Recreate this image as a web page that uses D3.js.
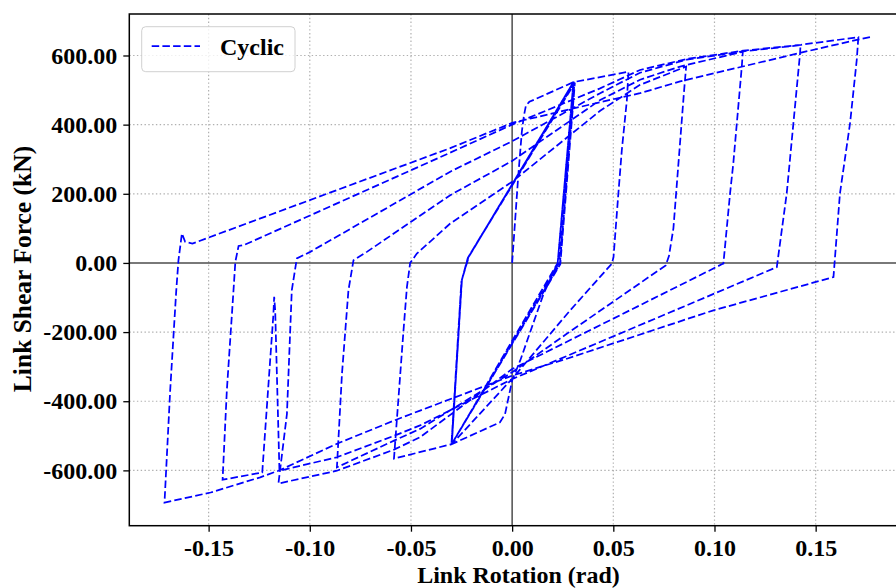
<!DOCTYPE html>
<html><head><meta charset="utf-8">
<script src="https://cdn.jsdelivr.net/npm/d3@7"></script>
<style>body{margin:0;background:#fff}svg{display:block}</style>
</head><body>
<svg id="chart" width="896" height="588"></svg>
<script>
// ---- data (rotation rad, shear kN) ----
const xTicks = [-0.15, -0.10, -0.05, 0.00, 0.05, 0.10, 0.15];
const yTicks = [-600, -400, -200, 0, 200, 400, 600];
const seriesName = "Cyclic";

const initialLoading = [[0,0],[0.0012,100],[0.003,250],[0.0048,380],[0.0058,425],[0.0068,455],[0.0085,466],[0.0303,523]];
const firstUnloading = [[0.0303,523],[0.0225,0],[0.0155,-90],[0.004,-282],[0,-340],[-0.0035,-437],[-0.006,-461],[-0.0298,-524]];
const elasticCycle1 = [[-0.0298,-524],[-0.0249,-50],[-0.0216,17],[0.0303,523],[0.0225,0],[-0.0298,-524]];
const elasticCycle2 = [[-0.0300,-525],[-0.0251,-55],[-0.0219,15],[0.0308,522],[0.0236,-3],[-0.0300,-525]];
const elasticCycle3 = [[-0.0298,-523],[-0.0248,-48],[-0.0214,18],[0.0305,524],[0.0229,-2],[-0.0298,-523]];
const elasticCycle4 = [[-0.0299,-524],[-0.0250,-52],[-0.0217,16],[0.0310,521],[0.0238,-4],[-0.0299,-524]];
const loadToP2 = [[-0.0299,-524],[-0.0249,-50],[-0.0216,17],[0.0303,523],[0.0575,553]];
const unloadP2 = [[0.0575,553],[0.0567,471],[0.0542,326],[0.0525,201],[0.0501,17],[0.0493,-2],[0.0287,-137],[0,-335],[-0.0298,-524],[-0.0584,-566]];
const reloadN2 = [[-0.0584,-566],[-0.057,-456],[-0.0537,-196],[-0.052,-70],[-0.0504,0],[-0.0471,27],[-0.0306,114],[0,235],[0.0435,440],[0.0632,515],[0.0860,568]];
const unloadP3 = [[0.0860,568],[0.0850,500],[0.0797,100],[0.0775,20],[0.0759,-7],[0.027,-205],[0,-316],[-0.0455,-480],[-0.0584,-514],[-0.0866,-591]];
const reloadN3 = [[-0.0866,-591],[-0.0841,-321],[-0.0809,-79],[-0.0784,8],[-0.0718,32],[-0.0306,196],[0,295],[0.0435,471],[0.0632,530],[0.083,568],[0.1140,611]];
const unloadP4 = [[0.1140,611],[0.1135,568],[0.1093,288],[0.1077,201],[0.1044,-2],[0.1036,-4],[0.05,-161],[0,-307],[-0.0455,-504],[-0.0584,-540],[-0.0866,-601],[-0.1155,-638]];
const reloadN4 = [[-0.1155,-638],[-0.1113,-437],[-0.1089,-79],[-0.1064,13],[-0.0998,32],[-0.0306,264],[0,352],[0.0435,491],[0.0632,550],[0.0863,588],[0.1143,612],[0.1425,630]];
const unloadP5 = [[0.1425,630],[0.1423,607],[0.139,404],[0.1357,201],[0.1308,-12],[0.0764,-147],[0,-336],[-0.0455,-470],[-0.0584,-500],[-0.0866,-562],[-0.1150,-601],[-0.1171,-137],[-0.1176,-98],[-0.1180,-150],[-0.1235,-606],[-0.1431,-627]];
const reloadN5 = [[-0.1431,-627],[-0.1410,-369],[-0.1377,-79],[-0.1368,3],[-0.1352,49],[-0.1328,51],[-0.0306,319],[0,400],[0.0435,505],[0.0632,558],[0.0863,590],[0.1143,614],[0.1428,631],[0.1711,653]];
const unloadP6 = [[0.1711,653],[0.1703,587],[0.167,404],[0.162,201],[0.1588,-41],[0.0995,-137],[0.027,-277],[0,-326],[-0.0455,-427],[-0.0584,-456],[-0.0866,-523],[-0.1155,-601],[-0.1245,-620],[-0.149,-664],[-0.1718,-693]];
const reloadN6 = [[-0.1718,-693],[-0.169,-369],[-0.166,-80],[-0.1649,8],[-0.1632,85],[-0.1616,61],[-0.158,56],[-0.0306,332],[0,405],[0.0435,465],[0.0632,491],[0.083,525],[0.1418,607],[0.1703,645],[0.1769,653]];

const branches = [initialLoading, firstUnloading, elasticCycle1, elasticCycle2, elasticCycle3, elasticCycle4,
  loadToP2, unloadP2, reloadN2, unloadP3, reloadN3, unloadP4, reloadN4, unloadP5, reloadN5, unloadP6, reloadN6];
const cyclic = branches.flat();

// ---- layout ----
const svg = d3.select("#chart");
const W = 896, H = 588;
const pL = 129.3, pT = 14, pB = 525.7, pR = 905.3;
const x = d3.scaleLinear().domain([-0.1892, 0.1943]).range([pL, pR]);
const y = d3.scaleLinear().domain([-760, 720]).range([pB, pT]);
const font = "'Liberation Serif','Times New Roman',serif";

svg.append("rect").attr("width", W).attr("height", H).attr("fill", "#fff");

// grid
const grid = svg.append("g");
grid.selectAll(".gx").data(xTicks.filter(d => d !== 0)).enter().append("line")
  .attr("x1", d => x(d)).attr("x2", d => x(d)).attr("y1", pT).attr("y2", pB)
  .attr("stroke", "#b0b0b0").attr("stroke-width", 1.2).attr("stroke-dasharray", "1.4,2.4");
grid.selectAll(".gy").data(yTicks.filter(d => d !== 0)).enter().append("line")
  .attr("x1", pL).attr("x2", pR).attr("y1", d => y(d)).attr("y2", d => y(d))
  .attr("stroke", "#b0b0b0").attr("stroke-width", 1.2).attr("stroke-dasharray", "1.4,2.4");

// zero lines
svg.append("line").attr("x1", pL).attr("x2", pR).attr("y1", y(0)).attr("y2", y(0))
  .attr("stroke", "#4d4d4d").attr("stroke-width", 1.5);
svg.append("line").attr("x1", x(0)).attr("x2", x(0)).attr("y1", pT).attr("y2", pB)
  .attr("stroke", "#4d4d4d").attr("stroke-width", 1.5);

// data
svg.append("clipPath").attr("id", "clip").append("rect")
  .attr("x", pL).attr("y", pT).attr("width", pR - pL).attr("height", pB - pT);
const line = d3.line().x(d => x(d[0])).y(d => y(d[1]));
svg.append("path").datum(cyclic).attr("clip-path", "url(#clip)")
  .attr("d", line).attr("fill", "none").attr("stroke", "#0000ff")
  .attr("stroke-width", 1.75).attr("stroke-dasharray", "7.5,3.2").attr("stroke-linejoin", "miter");

// axes
const fmt = d => d.toFixed(2);
const xAxis = svg.append("g").attr("transform", `translate(0,${pB})`)
  .call(d3.axisBottom(x).tickValues(xTicks).tickFormat(fmt).tickSize(6).tickPadding(7).tickSizeOuter(0));
const yAxis = svg.append("g").attr("transform", `translate(${pL},0)`)
  .call(d3.axisLeft(y).tickValues(yTicks).tickFormat(fmt).tickSize(6).tickPadding(6).tickSizeOuter(0));
[xAxis, yAxis].forEach(a => {
  a.select(".domain").remove();
  a.selectAll(".tick line").attr("stroke", "#000").attr("stroke-width", 1.3);
  a.selectAll(".tick text").attr("fill", "#000").style("font-family", font)
    .style("font-weight", "bold").style("font-size", "24px");
});

// spines
svg.append("rect").attr("x", pL).attr("y", pT).attr("width", pR - pL).attr("height", pB - pT)
  .attr("fill", "none").attr("stroke", "#000").attr("stroke-width", 1.5);

// axis labels
svg.append("text").attr("x", 518.5).attr("y", 583).attr("text-anchor", "middle")
  .style("font-family", font).style("font-weight", "bold").style("font-size", "24px")
  .text("Link Rotation (rad)");
svg.append("text").attr("transform", "translate(31,269) rotate(-90)").attr("text-anchor", "middle")
  .style("font-family", font).style("font-weight", "bold").style("font-size", "25.5px")
  .text("Link Shear Force (kN)");

// legend
const lg = svg.append("g");
lg.append("rect").attr("x", 141.7).attr("y", 26.7).attr("width", 153.3).attr("height", 45).attr("rx", 4)
  .attr("fill", "#fff").attr("fill-opacity", 0.8).attr("stroke", "#d0d0d0").attr("stroke-width", 1);
lg.append("line").attr("x1", 151.7).attr("x2", 200).attr("y1", 46).attr("y2", 46)
  .attr("stroke", "#0000ff").attr("stroke-width", 1.75).attr("stroke-dasharray", "7.5,3.2");
lg.append("text").attr("x", 220).attr("y", 55).text(seriesName)
  .style("font-family", font).style("font-weight", "bold").style("font-size", "24px");
</script>
</body></html>
